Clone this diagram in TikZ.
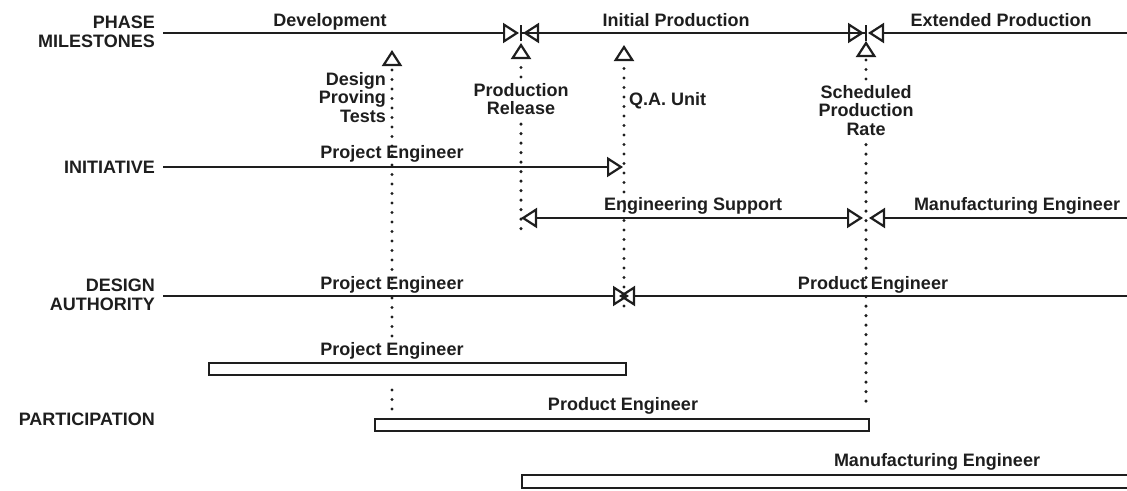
\documentclass[tikz,border=0pt]{standalone}
\usepackage{fontspec}
\setmainfont{Liberation Sans}
\usetikzlibrary{arrows.meta}
\definecolor{ink}{HTML}{1E1E1E}
\begin{document}
\begin{tikzpicture}[x=1pt,y=-1pt,
  tx/.style={font=\bfseries\fontsize{18}{18.5}\selectfont, text=ink, inner sep=0pt},
  ln/.style={draw=ink, line width=1.8pt},
  dots/.style={draw=ink, line width=3.3pt, line cap=round, dash pattern=on 0pt off 9.5pt},
  >={Triangle[open,length=16pt,width=20pt,line width=2.2pt]},
  bar/.style={draw=ink, line width=1.8pt, fill=white, minimum height=12pt, inner sep=0pt, anchor=north west}]
\useasboundingbox (0,0) rectangle (1127,490);

% ---------- left labels ----------
\node[tx, anchor=north east, align=right] (lPhase) at (155,16) {PHASE\\MILESTONES};
\node[tx, anchor=east] (lInit) at (155,167.5) {INITIATIVE};
\node[tx, anchor=north east, align=right] (lDesign) at (155,279) {DESIGN\\AUTHORITY};
\node[tx, anchor=east] (lPart) at (155,419.5) {PARTICIPATION};

% ---------- coordinates ----------
\coordinate (phL) at (163,33);
\coordinate (phR) at (1130,33);
\coordinate (ms1) at (521,33);
\coordinate (ms2) at (866,33);

\coordinate (inL) at (163,167);
\coordinate (inE) at (623,167);

\coordinate (esL) at (521,218);
\coordinate (esR) at (863,218);
\coordinate (esM) at (691,218);
\coordinate (mfR) at (1130,218);
\coordinate (mfE) at (869,218);

\coordinate (daL) at (163,296);
\coordinate (daR) at (1130,296);
\coordinate (daE1) at (629,296);
\coordinate (daE2) at (619,296);

% milestone tips and dotted ends
\coordinate (t1) at (392,50);
\coordinate (t2) at (521,43);
\coordinate (t3) at (624,45);
\coordinate (t4) at (866,41);
\coordinate (d1e) at (392,336);
\coordinate (d1s) at (392,390);
\coordinate (d1f) at (392,410);
\coordinate (d2e) at (521,236);
\coordinate (d3e) at (624,306);
\coordinate (d4e) at (866,410);

% ---------- phase milestones ----------
\node[tx, anchor=base] (pDev) at (330,26) {Development};
\node[tx, anchor=base] (pInit) at (676,26) {Initial Production};
\node[tx, anchor=base] (pExt) at (1001,26) {Extended Production};

\draw[ln,->] (phL) -- ([xshift=-2pt]ms1);
\draw[ln,->] (ms2) -- ([xshift=2pt]ms1);
\draw[ln] ([yshift=-8pt]ms1) -- ([yshift=8pt]ms1);
\draw[ln,->] (ms1) -- ([xshift=-2pt]ms2);
\draw[ln,->] (phR) -- ([xshift=2pt]ms2);
\draw[ln] ([yshift=-8pt]ms2) -- ([yshift=8pt]ms2);

% milestone texts
\node[tx, anchor=north east, align=right] (mDPT) at (386,72) {Design\\Proving\\Tests};
\node[tx, anchor=north, align=center] (mPR) at (521,83) {Production\\Release};
\node[tx, anchor=base west] (mQA) at (629,105) {Q.A. Unit};
\node[tx, anchor=north, align=center] (mSPR) at (866,85) {Scheduled\\Production\\Rate};

% dotted milestone lines
\draw[dots,->] (d1e) -- (t1);
\draw[dots] (d1s) -- (d1f);
\draw[dots,->] ([yshift=6pt]mPR.north) -- (t2);
\draw[dots] ([yshift=-9pt]mPR.south) -- (d2e);
\draw[dots,->] (d3e) -- (t3);
\draw[dots,->] ([yshift=6pt]mSPR.north) -- (t4);
\draw[dots] ([yshift=-9pt]mSPR.south) -- (d4e);

% ---------- initiative ----------
\node[tx, anchor=base] (iPE) at (392,158) {Project Engineer};
\draw[ln,->] (inL) -- (inE);

\node[tx, anchor=base] (iES) at (693,210) {Engineering Support};
\draw[ln,->] (esM) -- (esL);
\draw[ln,->] (esM) -- (esR);
\node[tx, anchor=base] (iME) at (1017,210) {Manufacturing Engineer};
\draw[ln,->] (mfR) -- (mfE);

% ---------- design authority ----------
\node[tx, anchor=base] (dPE) at (392,289) {Project Engineer};
\node[tx, anchor=base] (dPrE) at (873,289) {Product Engineer};
\draw[ln,->] (daL) -- (daE1);
\draw[ln,->] (daR) -- (daE2);

% ---------- participation ----------
\node[tx, anchor=base] (bPEl) at (392,355) {Project Engineer};
\node[bar, minimum width=417pt] (b1) at (208,362) {};
\node[tx, anchor=base] (bPrl) at (623,410) {Product Engineer};
\node[bar, minimum width=494pt] (b2) at (374,418) {};
\node[tx, anchor=base] (bMEl) at (937,466) {Manufacturing Engineer};
\node[bar, minimum width=620pt, minimum height=13pt] (b3) at (521,474) {};
\end{tikzpicture}
\end{document}
